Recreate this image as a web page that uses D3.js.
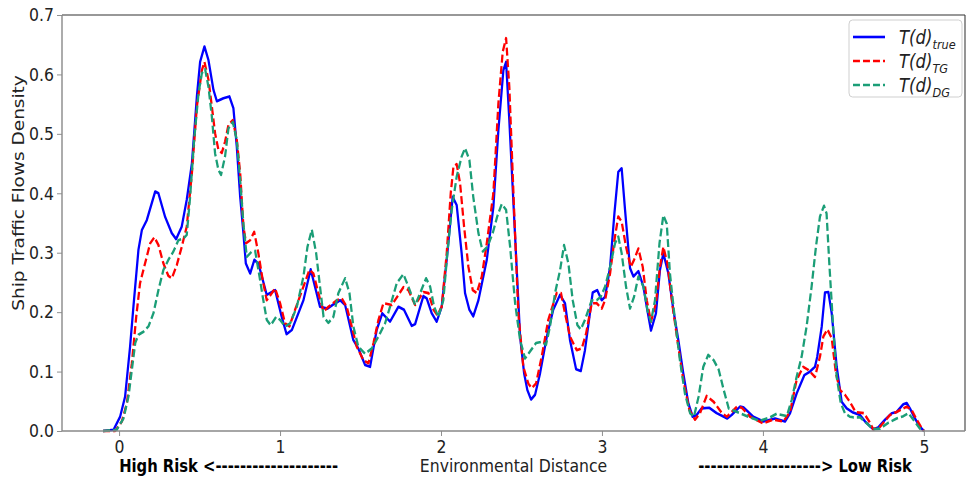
<!DOCTYPE html>
<html>
<head>
<meta charset="utf-8">
<script src="https://cdn.jsdelivr.net/npm/d3@7"></script>
<style>
  body { margin: 0; background: #fff; }
  svg { display: block; }
  text { font-family: "DejaVu Sans", sans-serif; }
</style>
</head>
<body>
<div id="chart"></div>
<script>
// data: [distance, density]
const xTicks = [0, 1, 2, 3, 4, 5];
const yTicks = [0, 0.1, 0.2, 0.3, 0.4, 0.5, 0.6, 0.7];
const seriesLabels = ["true", "TG", "DG"];

const truePts = [[-0.1,0],[-0.035,0.002],[0.006,0.024],[0.037,0.058],[0.068,0.142],[0.089,0.21],[0.12,0.305],[0.141,0.338],[0.172,0.355],[0.224,0.403],[0.244,0.4],[0.286,0.36],[0.327,0.333],[0.354,0.323],[0.389,0.344],[0.42,0.389],[0.452,0.45],[0.483,0.563],[0.503,0.621],[0.53,0.647],[0.555,0.624],[0.586,0.574],[0.607,0.555],[0.648,0.56],[0.685,0.563],[0.71,0.543],[0.731,0.478],[0.752,0.394],[0.772,0.333],[0.787,0.282],[0.814,0.265],[0.84,0.288],[0.865,0.282],[0.917,0.229],[0.969,0.237],[1.01,0.192],[1.04,0.163],[1.073,0.17],[1.145,0.22],[1.19,0.272],[1.248,0.209],[1.294,0.206],[1.342,0.215],[1.373,0.22],[1.404,0.212],[1.455,0.153],[1.486,0.139],[1.528,0.111],[1.559,0.108],[1.6,0.17],[1.635,0.198],[1.683,0.184],[1.735,0.209],[1.77,0.204],[1.818,0.177],[1.839,0.18],[1.89,0.227],[1.911,0.223],[1.942,0.198],[1.973,0.184],[2.004,0.209],[2.035,0.288],[2.072,0.394],[2.097,0.38],[2.128,0.299],[2.149,0.232],[2.176,0.204],[2.2,0.193],[2.232,0.22],[2.284,0.288],[2.325,0.377],[2.356,0.506],[2.387,0.607],[2.404,0.621],[2.424,0.523],[2.46,0.327],[2.491,0.159],[2.516,0.097],[2.536,0.069],[2.559,0.053],[2.584,0.061],[2.615,0.097],[2.657,0.159],[2.697,0.204],[2.739,0.229],[2.77,0.215],[2.801,0.153],[2.839,0.104],[2.868,0.101],[2.894,0.136],[2.942,0.233],[2.97,0.237],[2.998,0.22],[3.019,0.226],[3.05,0.276],[3.077,0.366],[3.101,0.436],[3.122,0.442],[3.143,0.372],[3.174,0.274],[3.195,0.26],[3.226,0.269],[3.257,0.243],[3.281,0.204],[3.304,0.169],[3.335,0.198],[3.36,0.271],[3.381,0.299],[3.412,0.265],[3.443,0.204],[3.474,0.153],[3.505,0.097],[3.536,0.047],[3.563,0.024],[3.588,0.027],[3.619,0.038],[3.667,0.039],[3.712,0.03],[3.778,0.021],[3.805,0.027],[3.857,0.041],[3.878,0.04],[3.94,0.024],[4.002,0.016],[4.075,0.021],[4.137,0.016],[4.168,0.03],[4.209,0.063],[4.257,0.094],[4.292,0.1],[4.323,0.108],[4.337,0.125],[4.365,0.176],[4.385,0.233],[4.406,0.234],[4.427,0.198],[4.458,0.108],[4.489,0.049],[4.52,0.038],[4.56,0.031],[4.602,0.027],[4.634,0.016],[4.685,0.003],[4.716,0.006],[4.758,0.019],[4.8,0.03],[4.83,0.032],[4.872,0.045],[4.893,0.047],[4.913,0.038],[4.944,0.021],[4.975,0.007],[5.0,0]];

const tgPts = [[-0.1,0],[-0.025,0],[0.017,0.016],[0.048,0.047],[0.079,0.114],[0.106,0.192],[0.13,0.249],[0.161,0.282],[0.193,0.316],[0.219,0.326],[0.244,0.313],[0.275,0.282],[0.306,0.261],[0.327,0.257],[0.358,0.279],[0.389,0.31],[0.42,0.344],[0.452,0.434],[0.483,0.546],[0.514,0.607],[0.53,0.621],[0.555,0.591],[0.576,0.546],[0.596,0.501],[0.617,0.473],[0.638,0.468],[0.658,0.487],[0.679,0.515],[0.706,0.523],[0.731,0.49],[0.752,0.434],[0.772,0.344],[0.789,0.316],[0.814,0.321],[0.839,0.335],[0.865,0.299],[0.892,0.254],[0.917,0.22],[0.969,0.24],[1.0,0.215],[1.031,0.181],[1.058,0.176],[1.093,0.204],[1.145,0.243],[1.182,0.271],[1.207,0.265],[1.238,0.232],[1.27,0.201],[1.3,0.209],[1.352,0.22],[1.383,0.223],[1.414,0.209],[1.445,0.176],[1.476,0.142],[1.518,0.119],[1.549,0.114],[1.58,0.148],[1.611,0.187],[1.642,0.215],[1.694,0.212],[1.735,0.229],[1.766,0.242],[1.797,0.237],[1.839,0.212],[1.89,0.234],[1.922,0.232],[1.953,0.204],[1.977,0.195],[2.004,0.209],[2.035,0.299],[2.06,0.4],[2.077,0.445],[2.097,0.449],[2.118,0.417],[2.143,0.344],[2.17,0.276],[2.197,0.237],[2.222,0.232],[2.253,0.26],[2.284,0.316],[2.325,0.4],[2.356,0.551],[2.383,0.638],[2.404,0.661],[2.424,0.579],[2.453,0.377],[2.48,0.198],[2.511,0.108],[2.542,0.08],[2.563,0.072],[2.59,0.08],[2.625,0.125],[2.666,0.187],[2.718,0.232],[2.745,0.232],[2.77,0.198],[2.801,0.159],[2.843,0.136],[2.874,0.139],[2.901,0.164],[2.936,0.215],[2.967,0.215],[2.998,0.206],[3.019,0.22],[3.05,0.265],[3.077,0.321],[3.101,0.361],[3.122,0.352],[3.149,0.31],[3.178,0.276],[3.199,0.288],[3.226,0.307],[3.253,0.276],[3.278,0.22],[3.304,0.184],[3.335,0.215],[3.36,0.276],[3.381,0.31],[3.406,0.282],[3.439,0.209],[3.474,0.142],[3.505,0.086],[3.543,0.035],[3.578,0.019],[3.609,0.03],[3.65,0.059],[3.694,0.049],[3.745,0.03],[3.776,0.024],[3.838,0.041],[3.869,0.039],[3.92,0.024],[4.0,0.013],[4.064,0.019],[4.126,0.016],[4.168,0.032],[4.209,0.086],[4.25,0.108],[4.281,0.103],[4.323,0.091],[4.354,0.125],[4.375,0.159],[4.4,0.171],[4.427,0.156],[4.453,0.097],[4.478,0.069],[4.509,0.061],[4.54,0.049],[4.575,0.032],[4.627,0.03],[4.66,0.016],[4.685,0.003],[4.727,0.007],[4.789,0.027],[4.83,0.032],[4.893,0.041],[4.924,0.035],[4.955,0.019],[4.986,0.005],[5.0,0]];

const dgPts = [[-0.1,0],[-0.015,0.002],[0.027,0.021],[0.058,0.058],[0.079,0.103],[0.1,0.148],[0.12,0.162],[0.151,0.167],[0.182,0.176],[0.213,0.198],[0.244,0.237],[0.275,0.271],[0.306,0.288],[0.337,0.302],[0.368,0.321],[0.4,0.324],[0.42,0.33],[0.441,0.394],[0.466,0.49],[0.493,0.568],[0.514,0.602],[0.534,0.609],[0.555,0.579],[0.576,0.529],[0.596,0.467],[0.617,0.439],[0.633,0.431],[0.658,0.462],[0.679,0.509],[0.706,0.52],[0.731,0.49],[0.752,0.422],[0.772,0.349],[0.793,0.293],[0.824,0.302],[0.845,0.303],[0.872,0.26],[0.892,0.226],[0.917,0.187],[0.942,0.178],[0.975,0.192],[1.0,0.187],[1.031,0.176],[1.062,0.181],[1.104,0.209],[1.145,0.26],[1.17,0.31],[1.197,0.339],[1.224,0.299],[1.248,0.243],[1.27,0.192],[1.3,0.182],[1.331,0.192],[1.362,0.232],[1.404,0.257],[1.431,0.232],[1.455,0.176],[1.486,0.142],[1.528,0.13],[1.57,0.139],[1.611,0.159],[1.652,0.181],[1.683,0.209],[1.725,0.249],[1.766,0.264],[1.797,0.243],[1.839,0.212],[1.87,0.232],[1.907,0.257],[1.932,0.243],[1.957,0.209],[1.983,0.192],[2.014,0.22],[2.039,0.299],[2.066,0.372],[2.097,0.428],[2.128,0.462],[2.149,0.476],[2.176,0.456],[2.2,0.394],[2.232,0.333],[2.259,0.302],[2.288,0.31],[2.321,0.333],[2.349,0.361],[2.377,0.382],[2.404,0.372],[2.429,0.31],[2.46,0.215],[2.491,0.153],[2.522,0.122],[2.553,0.134],[2.59,0.148],[2.625,0.15],[2.652,0.145],[2.677,0.176],[2.708,0.232],[2.739,0.27],[2.764,0.313],[2.791,0.282],[2.818,0.22],[2.847,0.178],[2.868,0.171],[2.894,0.187],[2.936,0.22],[2.967,0.22],[2.992,0.226],[3.019,0.243],[3.05,0.276],[3.081,0.316],[3.101,0.327],[3.122,0.299],[3.149,0.243],[3.174,0.206],[3.199,0.226],[3.226,0.26],[3.257,0.243],[3.284,0.201],[3.304,0.184],[3.329,0.22],[3.357,0.316],[3.381,0.363],[3.402,0.349],[3.422,0.265],[3.453,0.187],[3.484,0.119],[3.515,0.063],[3.547,0.03],[3.571,0.024],[3.6,0.058],[3.629,0.108],[3.66,0.128],[3.694,0.119],[3.725,0.103],[3.756,0.069],[3.787,0.038],[3.82,0.034],[3.857,0.03],[3.909,0.024],[3.981,0.017],[4.044,0.023],[4.085,0.029],[4.148,0.025],[4.178,0.052],[4.209,0.091],[4.24,0.125],[4.271,0.176],[4.302,0.243],[4.329,0.31],[4.354,0.361],[4.379,0.379],[4.395,0.366],[4.412,0.282],[4.437,0.17],[4.458,0.091],[4.483,0.047],[4.509,0.03],[4.54,0.024],[4.56,0.023],[4.602,0.023],[4.644,0.013],[4.685,0.003],[4.727,0.004],[4.78,0.014],[4.83,0.021],[4.872,0.025],[4.903,0.03],[4.934,0.019],[4.975,0.004],[5.0,0]];

// config

const width = 966;
const height = 479;
const squeeze = 0.87;          // the figure is drawn a little narrower than tall
const innerW = width / squeeze;
const margin = { top: 15, bottom: 48, left: 62 / squeeze, right: 1 / squeeze };

const series = [
  { name: seriesLabels[0], pts: truePts, color: "#0000ff", dash: null },
  { name: seriesLabels[1], pts: tgPts, color: "#ff0000", dash: "8,3.5" },
  { name: seriesLabels[2], pts: dgPts, color: "#1b9e77", dash: "8,3.5" }
];

// scales

const xScale = d3.scaleLinear()
  .domain([-0.355, 5.255])
  .range([margin.left, innerW - margin.right]);

const yScale = d3.scaleLinear()
  .domain([0, 0.7])
  .range([height - margin.bottom, margin.top]);

// svg output

const svg = d3.select("#chart")
  .append("svg")
  .attr("width", width)
  .attr("height", height);

const g = svg.append("g")
  .attr("transform", "scale(" + squeeze + ",1)");

// axes

const yAxis = d3.axisLeft(yScale)
  .tickValues(yTicks)
  .tickFormat(d3.format(".1f"))
  .tickSize(5 / squeeze)
  .tickPadding(3 / squeeze);

const xAxis = d3.axisBottom(xScale)
  .tickValues(xTicks)
  .tickFormat(d3.format("d"))
  .tickSize(5)
  .tickPadding(4);

g.append("g")
  .attr("transform", "translate(" + margin.left + ",0)")
  .call(yAxis)
  .call(a => a.select(".domain").remove())
  .call(a => a.selectAll(".tick line").attr("stroke", "#888"))
  .call(a => a.selectAll(".tick text")
    .attr("fill", "#222")
    .style("font-size", "18px"));

g.append("g")
  .attr("transform", "translate(0," + (height - margin.bottom) + ")")
  .call(xAxis)
  .call(a => a.select(".domain").remove())
  .call(a => a.selectAll(".tick line").attr("stroke", "#888"))
  .call(a => a.selectAll(".tick text")
    .attr("fill", "#222")
    .style("font-size", "18px"));

// lines

const line = d3.line()
  .x(d => xScale(d[0]))
  .y(d => yScale(d[1]));

series.forEach(s => {
  g.append("path")
    .attr("d", line(s.pts))
    .attr("fill", "none")
    .attr("stroke", s.color)
    .attr("stroke-width", 2.6)
    .attr("stroke-linejoin", "round")
    .attr("stroke-dasharray", s.dash);
});

// frame

const x0 = margin.left, x1 = innerW - margin.right;
const y0 = yScale(0), y1 = yScale(0.7);
g.append("line").attr("x1", x0).attr("x2", x1).attr("y1", y1).attr("y2", y1)
  .attr("stroke", "#333").attr("stroke-width", 1.2);
g.append("line").attr("x1", x1).attr("x2", x1).attr("y1", y1).attr("y2", y0)
  .attr("stroke", "#333").attr("stroke-width", 1.2);
g.append("line").attr("x1", x0).attr("x2", x0).attr("y1", y1).attr("y2", y0)
  .attr("stroke", "#888").attr("stroke-width", 1.6);
g.append("line").attr("x1", x0).attr("x2", x1).attr("y1", y0).attr("y2", y0)
  .attr("stroke", "#888").attr("stroke-width", 1.6);

// labels

g.append("text")
  .attr("transform", "translate(" + (18 / squeeze) + ",193) rotate(-90)")
  .attr("text-anchor", "middle")
  .attr("dy", "0.35em")
  .style("font-size", "18.5px")
  .attr("fill", "#222")
  .text("Ship Traffic Flows Density");

g.append("text")
  .attr("x", (x0 + x1) / 2)
  .attr("y", 472)
  .attr("text-anchor", "middle")
  .style("font-size", "18px")
  .attr("fill", "#222")
  .text("Environmental Distance");

g.append("text")
  .attr("x", xScale(0))
  .attr("y", 472)
  .style("font-size", "17px")
  .style("font-weight", "bold")
  .text("High Risk <" + "-".repeat(20));

g.append("text")
  .attr("x", xScale(4.925))
  .attr("y", 472)
  .attr("text-anchor", "end")
  .style("font-size", "17px")
  .style("font-weight", "bold")
  .text("-".repeat(20) + "> Low Risk");

// legend

const lgX = 849 / squeeze, lgY = 20;
const legend = g.append("g").attr("transform", "translate(" + lgX + "," + lgY + ")");

legend.append("rect")
  .attr("width", 113 / squeeze)
  .attr("height", 77)
  .attr("rx", 4)
  .attr("fill", "#fff")
  .attr("fill-opacity", 0.8)
  .attr("stroke", "#ccc");

series.forEach((s, i) => {
  const ry = 17 + i * 24;
  legend.append("line")
    .attr("x1", 4 / squeeze).attr("x2", 36 / squeeze)
    .attr("y1", ry).attr("y2", ry)
    .attr("stroke", s.color)
    .attr("stroke-width", 2.6)
    .attr("stroke-dasharray", s.dash);

  const t = legend.append("text")
    .attr("x", 50 / squeeze)
    .attr("y", ry + 7)
    .style("font-size", "19px")
    .style("font-style", "italic")
    .attr("fill", "#222");
  t.append("tspan").text("T(d)");
  t.append("tspan")
    .attr("dy", 5)
    .style("font-size", "13px")
    .text(s.name);
});
</script>
</body>
</html>
